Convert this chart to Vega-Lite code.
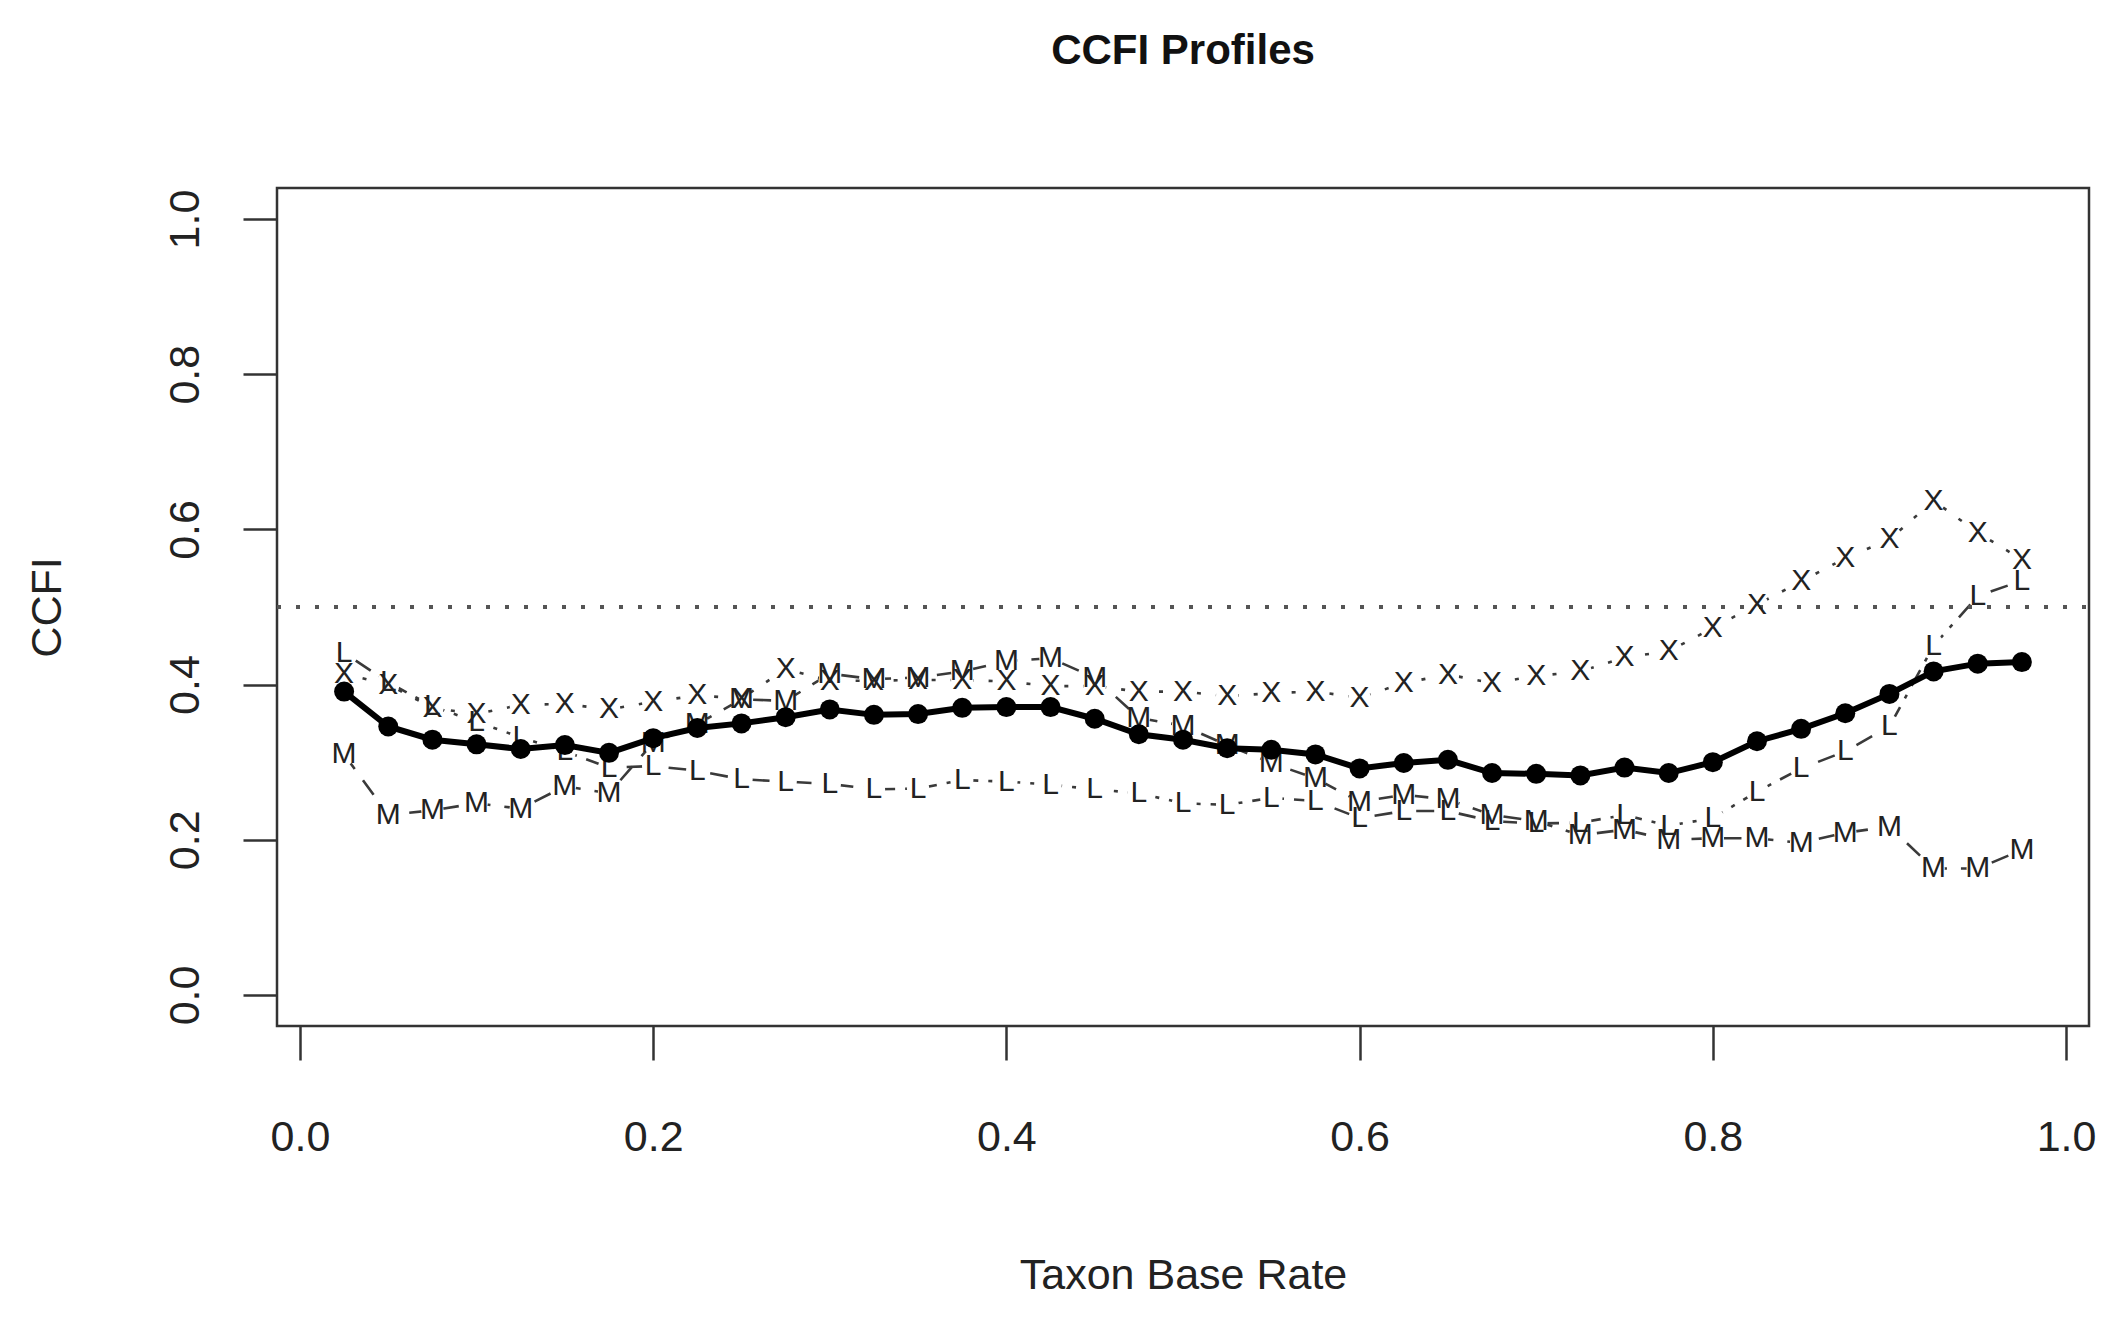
{
  "$schema": "https://vega.github.io/schema/vega-lite/v6.json",
  "autosize": "none",
  "padding": {"left": 277, "top": 188, "right": 31, "bottom": 291},
  "width": 1812,
  "height": 838,
  "background": "white",
  "config": {
    "view": {"stroke": "#333", "strokeWidth": 2.5},
    "font": "Liberation Sans"
  },
  "title": {
    "text": "CCFI Profiles",
    "font": "Liberation Sans",
    "fontSize": 42,
    "fontWeight": "bold",
    "color": "#111",
    "anchor": "middle",
    "baseline": "alphabetic",
    "offset": 82
  },
  "datasets": {
    "profiles": [
      {"rate": 0.025, "series": "CCFI", "value": 0.391},
      {"rate": 0.05, "series": "CCFI", "value": 0.346},
      {"rate": 0.075, "series": "CCFI", "value": 0.329},
      {"rate": 0.1, "series": "CCFI", "value": 0.323},
      {"rate": 0.125, "series": "CCFI", "value": 0.317},
      {"rate": 0.15, "series": "CCFI", "value": 0.322},
      {"rate": 0.175, "series": "CCFI", "value": 0.312},
      {"rate": 0.2, "series": "CCFI", "value": 0.331},
      {"rate": 0.225, "series": "CCFI", "value": 0.344},
      {"rate": 0.25, "series": "CCFI", "value": 0.350},
      {"rate": 0.275, "series": "CCFI", "value": 0.358},
      {"rate": 0.3, "series": "CCFI", "value": 0.368},
      {"rate": 0.325, "series": "CCFI", "value": 0.361},
      {"rate": 0.35, "series": "CCFI", "value": 0.362},
      {"rate": 0.375, "series": "CCFI", "value": 0.370},
      {"rate": 0.4, "series": "CCFI", "value": 0.371},
      {"rate": 0.425, "series": "CCFI", "value": 0.371},
      {"rate": 0.45, "series": "CCFI", "value": 0.356},
      {"rate": 0.475, "series": "CCFI", "value": 0.336},
      {"rate": 0.5, "series": "CCFI", "value": 0.329},
      {"rate": 0.525, "series": "CCFI", "value": 0.318},
      {"rate": 0.55, "series": "CCFI", "value": 0.316},
      {"rate": 0.575, "series": "CCFI", "value": 0.310},
      {"rate": 0.6, "series": "CCFI", "value": 0.292},
      {"rate": 0.625, "series": "CCFI", "value": 0.299},
      {"rate": 0.65, "series": "CCFI", "value": 0.303},
      {"rate": 0.675, "series": "CCFI", "value": 0.286},
      {"rate": 0.7, "series": "CCFI", "value": 0.285},
      {"rate": 0.725, "series": "CCFI", "value": 0.283},
      {"rate": 0.75, "series": "CCFI", "value": 0.293},
      {"rate": 0.775, "series": "CCFI", "value": 0.286},
      {"rate": 0.8, "series": "CCFI", "value": 0.300},
      {"rate": 0.825, "series": "CCFI", "value": 0.327},
      {"rate": 0.85, "series": "CCFI", "value": 0.343},
      {"rate": 0.875, "series": "CCFI", "value": 0.363},
      {"rate": 0.9, "series": "CCFI", "value": 0.388},
      {"rate": 0.925, "series": "CCFI", "value": 0.417},
      {"rate": 0.95, "series": "CCFI", "value": 0.427},
      {"rate": 0.975, "series": "CCFI", "value": 0.429},

      {"rate": 0.025, "series": "X", "value": 0.414},
      {"rate": 0.05, "series": "X", "value": 0.400},
      {"rate": 0.075, "series": "X", "value": 0.370},
      {"rate": 0.1, "series": "X", "value": 0.362},
      {"rate": 0.125, "series": "X", "value": 0.374},
      {"rate": 0.15, "series": "X", "value": 0.375},
      {"rate": 0.175, "series": "X", "value": 0.368},
      {"rate": 0.2, "series": "X", "value": 0.378},
      {"rate": 0.225, "series": "X", "value": 0.386},
      {"rate": 0.25, "series": "X", "value": 0.382},
      {"rate": 0.275, "series": "X", "value": 0.420},
      {"rate": 0.3, "series": "X", "value": 0.405},
      {"rate": 0.325, "series": "X", "value": 0.405},
      {"rate": 0.35, "series": "X", "value": 0.406},
      {"rate": 0.375, "series": "X", "value": 0.406},
      {"rate": 0.4, "series": "X", "value": 0.404},
      {"rate": 0.425, "series": "X", "value": 0.398},
      {"rate": 0.45, "series": "X", "value": 0.398},
      {"rate": 0.475, "series": "X", "value": 0.391},
      {"rate": 0.5, "series": "X", "value": 0.391},
      {"rate": 0.525, "series": "X", "value": 0.385},
      {"rate": 0.55, "series": "X", "value": 0.389},
      {"rate": 0.575, "series": "X", "value": 0.391},
      {"rate": 0.6, "series": "X", "value": 0.383},
      {"rate": 0.625, "series": "X", "value": 0.402},
      {"rate": 0.65, "series": "X", "value": 0.413},
      {"rate": 0.675, "series": "X", "value": 0.402},
      {"rate": 0.7, "series": "X", "value": 0.411},
      {"rate": 0.725, "series": "X", "value": 0.417},
      {"rate": 0.75, "series": "X", "value": 0.435},
      {"rate": 0.775, "series": "X", "value": 0.443},
      {"rate": 0.8, "series": "X", "value": 0.473},
      {"rate": 0.825, "series": "X", "value": 0.503},
      {"rate": 0.85, "series": "X", "value": 0.533},
      {"rate": 0.875, "series": "X", "value": 0.563},
      {"rate": 0.9, "series": "X", "value": 0.587},
      {"rate": 0.925, "series": "X", "value": 0.637},
      {"rate": 0.95, "series": "X", "value": 0.596},
      {"rate": 0.975, "series": "X", "value": 0.561},

      {"rate": 0.025, "series": "L", "value": 0.441},
      {"rate": 0.05, "series": "L", "value": 0.403},
      {"rate": 0.075, "series": "L", "value": 0.372},
      {"rate": 0.1, "series": "L", "value": 0.352},
      {"rate": 0.125, "series": "L", "value": 0.332},
      {"rate": 0.15, "series": "L", "value": 0.314},
      {"rate": 0.175, "series": "L", "value": 0.293},
      {"rate": 0.2, "series": "L", "value": 0.295},
      {"rate": 0.225, "series": "L", "value": 0.289},
      {"rate": 0.25, "series": "L", "value": 0.278},
      {"rate": 0.275, "series": "L", "value": 0.275},
      {"rate": 0.3, "series": "L", "value": 0.272},
      {"rate": 0.325, "series": "L", "value": 0.265},
      {"rate": 0.35, "series": "L", "value": 0.266},
      {"rate": 0.375, "series": "L", "value": 0.277},
      {"rate": 0.4, "series": "L", "value": 0.275},
      {"rate": 0.425, "series": "L", "value": 0.271},
      {"rate": 0.45, "series": "L", "value": 0.265},
      {"rate": 0.475, "series": "L", "value": 0.260},
      {"rate": 0.5, "series": "L", "value": 0.247},
      {"rate": 0.525, "series": "L", "value": 0.245},
      {"rate": 0.55, "series": "L", "value": 0.254},
      {"rate": 0.575, "series": "L", "value": 0.250},
      {"rate": 0.6, "series": "L", "value": 0.228},
      {"rate": 0.625, "series": "L", "value": 0.237},
      {"rate": 0.65, "series": "L", "value": 0.237},
      {"rate": 0.675, "series": "L", "value": 0.224},
      {"rate": 0.7, "series": "L", "value": 0.221},
      {"rate": 0.725, "series": "L", "value": 0.222},
      {"rate": 0.75, "series": "L", "value": 0.232},
      {"rate": 0.775, "series": "L", "value": 0.218},
      {"rate": 0.8, "series": "L", "value": 0.228},
      {"rate": 0.825, "series": "L", "value": 0.262},
      {"rate": 0.85, "series": "L", "value": 0.292},
      {"rate": 0.875, "series": "L", "value": 0.314},
      {"rate": 0.9, "series": "L", "value": 0.346},
      {"rate": 0.925, "series": "L", "value": 0.450},
      {"rate": 0.95, "series": "L", "value": 0.514},
      {"rate": 0.975, "series": "L", "value": 0.534},

      {"rate": 0.025, "series": "M", "value": 0.310},
      {"rate": 0.05, "series": "M", "value": 0.232},
      {"rate": 0.075, "series": "M", "value": 0.238},
      {"rate": 0.1, "series": "M", "value": 0.247},
      {"rate": 0.125, "series": "M", "value": 0.240},
      {"rate": 0.15, "series": "M", "value": 0.269},
      {"rate": 0.175, "series": "M", "value": 0.260},
      {"rate": 0.2, "series": "M", "value": 0.325},
      {"rate": 0.225, "series": "M", "value": 0.349},
      {"rate": 0.25, "series": "M", "value": 0.381},
      {"rate": 0.275, "series": "M", "value": 0.379},
      {"rate": 0.3, "series": "M", "value": 0.414},
      {"rate": 0.325, "series": "M", "value": 0.407},
      {"rate": 0.35, "series": "M", "value": 0.409},
      {"rate": 0.375, "series": "M", "value": 0.417},
      {"rate": 0.4, "series": "M", "value": 0.430},
      {"rate": 0.425, "series": "M", "value": 0.434},
      {"rate": 0.45, "series": "M", "value": 0.409},
      {"rate": 0.475, "series": "M", "value": 0.357},
      {"rate": 0.5, "series": "M", "value": 0.347},
      {"rate": 0.525, "series": "M", "value": 0.322},
      {"rate": 0.55, "series": "M", "value": 0.299},
      {"rate": 0.575, "series": "M", "value": 0.279},
      {"rate": 0.6, "series": "M", "value": 0.249},
      {"rate": 0.625, "series": "M", "value": 0.258},
      {"rate": 0.65, "series": "M", "value": 0.252},
      {"rate": 0.675, "series": "M", "value": 0.232},
      {"rate": 0.7, "series": "M", "value": 0.224},
      {"rate": 0.725, "series": "M", "value": 0.206},
      {"rate": 0.75, "series": "M", "value": 0.213},
      {"rate": 0.775, "series": "M", "value": 0.200},
      {"rate": 0.8, "series": "M", "value": 0.202},
      {"rate": 0.825, "series": "M", "value": 0.202},
      {"rate": 0.85, "series": "M", "value": 0.196},
      {"rate": 0.875, "series": "M", "value": 0.209},
      {"rate": 0.9, "series": "M", "value": 0.217},
      {"rate": 0.925, "series": "M", "value": 0.163},
      {"rate": 0.95, "series": "M", "value": 0.163},
      {"rate": 0.975, "series": "M", "value": 0.187}
    ]
  },
  "data": {"name": "profiles"},
  "encoding": {
    "x": {
      "field": "rate",
      "type": "quantitative",
      "scale": {"domain": [-0.013, 1.013], "nice": false, "zero": false},
      "axis": {
        "title": "Taxon Base Rate",
        "values": [0, 0.2, 0.4, 0.6, 0.8, 1.0],
        "format": ".1f",
        "grid": false,
        "domain": false,
        "tickSize": 34,
        "tickWidth": 2.5,
        "tickColor": "#333",
        "labelFont": "Liberation Sans",
        "labelFontSize": 43,
        "labelColor": "#222",
        "labelAlign": "center",
        "labelBaseline": "alphabetic",
        "labelPadding": 90,
        "labelFlush": false,
        "labelOverlap": false,
        "titleFont": "Liberation Sans",
        "titleFontSize": 43,
        "titleFontWeight": "normal",
        "titleColor": "#222",
        "titleBaseline": "alphabetic",
        "titleAlign": "center",
        "titleX": 906,
        "titleY": 262
      }
    },
    "y": {
      "field": "value",
      "type": "quantitative",
      "scale": {"domain": [-0.04, 1.04], "nice": false, "zero": false},
      "axis": {
        "title": "CCFI",
        "values": [0, 0.2, 0.4, 0.6, 0.8, 1.0],
        "format": ".1f",
        "grid": false,
        "domain": false,
        "tickSize": 34,
        "tickWidth": 2.5,
        "tickColor": "#333",
        "labelFont": "Liberation Sans",
        "labelFontSize": 43,
        "labelColor": "#222",
        "labelAngle": -90,
        "labelAlign": "center",
        "labelBaseline": "alphabetic",
        "labelPadding": 45,
        "labelFlush": false,
        "labelOverlap": false,
        "titleFont": "Liberation Sans",
        "titleFontSize": 43,
        "titleFontWeight": "normal",
        "titleColor": "#222",
        "titleAngle": -90,
        "titleAlign": "center",
        "titleBaseline": "alphabetic",
        "titleX": -217,
        "titleY": 419
      }
    }
  },
  "layer": [
    {
      "transform": [{"filter": "datum.series !== 'CCFI'"}],
      "mark": {"type": "line", "color": "#3a3a3a", "strokeWidth": 2.6},
      "encoding": {
        "detail": {"field": "series", "type": "nominal"},
        "strokeDash": {
          "field": "series",
          "type": "nominal",
          "scale": {"domain": ["X", "L", "M"], "range": [[4, 15], [4, 10, 18, 10], [18, 14]]},
          "legend": null
        }
      }
    },
    {
      "transform": [{"filter": "datum.series !== 'CCFI'"}],
      "mark": {"type": "point", "shape": "circle", "filled": true, "color": "white", "opacity": 1, "size": 500}
    },
    {
      "mark": {"type": "rule", "color": "#555", "strokeWidth": 3, "strokeDash": [4, 15]},
      "encoding": {"x": {"value": 0}, "x2": {"value": 1812}, "y": {"datum": 0.5}}
    },
    {
      "transform": [{"filter": "datum.series !== 'CCFI'"}],
      "mark": {"type": "text", "font": "Liberation Sans", "fontSize": 30, "color": "#222", "align": "center", "baseline": "middle"},
      "encoding": {"text": {"field": "series", "type": "nominal"}}
    },
    {
      "transform": [{"filter": "datum.series === 'CCFI'"}],
      "mark": {"type": "line", "color": "black", "strokeWidth": 6}
    },
    {
      "transform": [{"filter": "datum.series === 'CCFI'"}],
      "mark": {"type": "point", "shape": "circle", "filled": true, "color": "black", "opacity": 1, "size": 400}
    }
  ]
}
